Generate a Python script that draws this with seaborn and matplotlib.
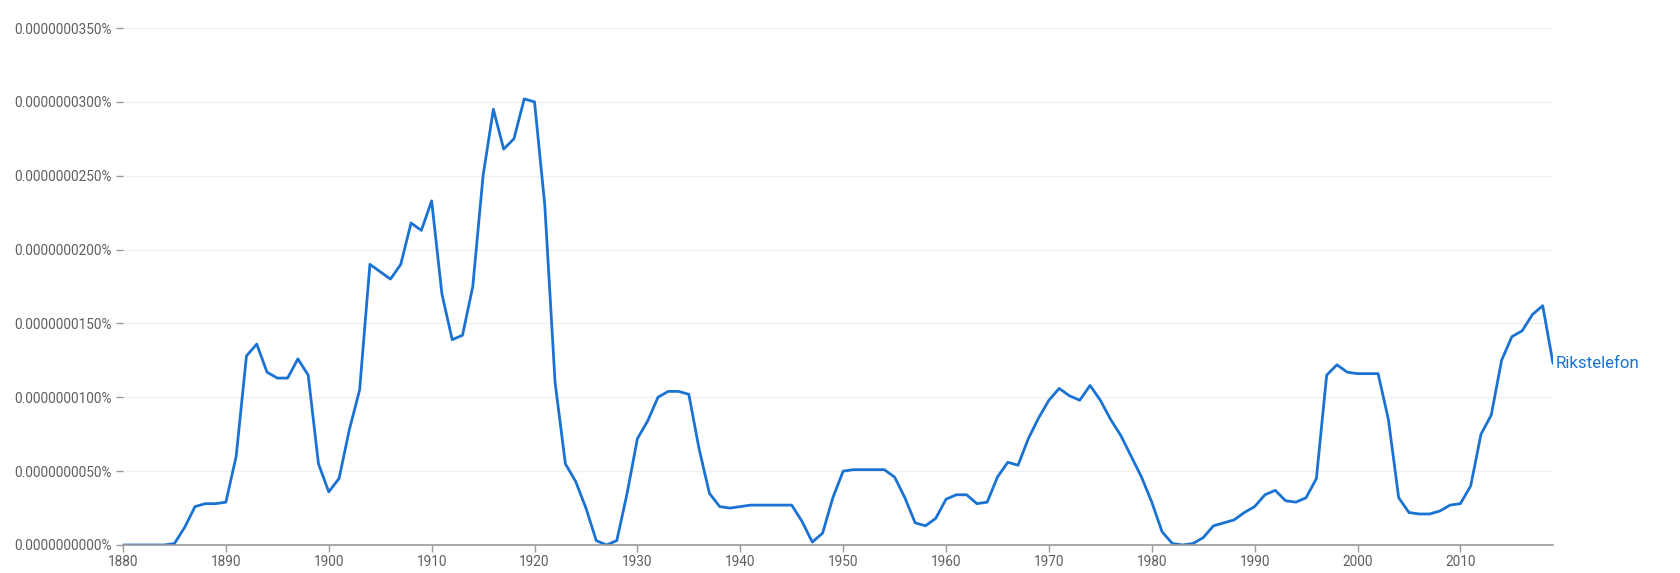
import numpy as np
import pandas as pd
import matplotlib
matplotlib.use("Agg")
import matplotlib.pyplot as plt
import seaborn as sns
from matplotlib.ticker import FuncFormatter

# yearly values, in units of 1e-9 %
years = list(range(1880, 2020))
values = [
    0, 0, 0, 0, 0, 0.1, 1.2, 2.6, 2.8, 2.8,          # 1880s
    2.9, 6.0, 12.8, 13.6, 11.7, 11.3, 11.3, 12.6, 11.5, 5.5,   # 1890s
    3.6, 4.5, 7.8, 10.5, 19.0, 18.5, 18.0, 19.0, 21.8, 21.3,   # 1900s
    23.3, 17.0, 13.9, 14.2, 17.5, 25.0, 29.5, 26.8, 27.5, 30.2,  # 1910s
    30.0, 23.0, 11.0, 5.5, 4.3, 2.5, 0.3, 0.0, 0.3, 3.5,       # 1920s
    7.2, 8.4, 10.0, 10.4, 10.4, 10.2, 6.5, 3.5, 2.6, 2.5,      # 1930s
    2.6, 2.7, 2.7, 2.7, 2.7, 2.7, 1.6, 0.2, 0.8, 3.2,          # 1940s
    5.0, 5.1, 5.1, 5.1, 5.1, 4.6, 3.2, 1.5, 1.3, 1.8,          # 1950s
    3.1, 3.4, 3.4, 2.8, 2.9, 4.6, 5.6, 5.4, 7.2, 8.6,          # 1960s
    9.8, 10.6, 10.1, 9.8, 10.8, 9.8, 8.5, 7.4, 6.0, 4.6,       # 1970s
    2.9, 0.9, 0.1, 0.0, 0.1, 0.5, 1.3, 1.5, 1.7, 2.2,          # 1980s
    2.6, 3.4, 3.7, 3.0, 2.9, 3.2, 4.5, 11.5, 12.2, 11.7,       # 1990s
    11.6, 11.6, 11.6, 8.5, 3.2, 2.2, 2.1, 2.1, 2.3, 2.7,       # 2000s
    2.8, 4.0, 7.5, 8.8, 12.5, 14.1, 14.5, 15.6, 16.2, 12.3,    # 2010s
]
label = "Rikstelefon"
y_ticks = [0, 5, 10, 15, 20, 25, 30, 35]
x_ticks = list(range(1880, 2020, 10))

df = pd.DataFrame({"year": years, "value": values})

sns.set_theme(style="white")
plt.rcParams["font.family"] = ["Roboto", "DejaVu Sans"]

blue = "#1a73d2"
grey = "#5f5f5f"

fig = plt.figure(figsize=(16.81, 5.73), dpi=100)
ax = fig.add_axes([123 / 1681, 1 - 545 / 573, (1553 - 123) / 1681, (545 - 28) / 573])

sns.lineplot(data=df, x="year", y="value", color=blue, linewidth=2, ax=ax)

ax.set_xlim(1880, 2019)
ax.set_ylim(0, 35)
ax.set_xticks(x_ticks)
ax.set_yticks(y_ticks)
ax.yaxis.set_major_formatter(FuncFormatter(lambda v, p: f"{v * 1e-9:.10f}%"))
ax.grid(axis="y", color="#f0f0f0", linewidth=1)
ax.set_axisbelow(True)

for s in ["top", "right", "left"]:
    ax.spines[s].set_visible(False)
ax.spines["bottom"].set_color("#999999")
ax.spines["bottom"].set_linewidth(1.2)

ax.tick_params(axis="y", left=True, length=5, width=1, color="#999999",
               labelsize=9.8, labelcolor=grey, pad=3)
ax.tick_params(axis="x", bottom=True, length=5, width=1, color="#999999",
               labelsize=9.8, labelcolor=grey, pad=2)
ax.set_xlabel("")
ax.set_ylabel("")

ax.text(years[-1] + 0.3, values[-1], label, color=blue, fontsize=12.2,
        va="center", ha="left", clip_on=False)

fig.savefig("out.png", dpi=100)
